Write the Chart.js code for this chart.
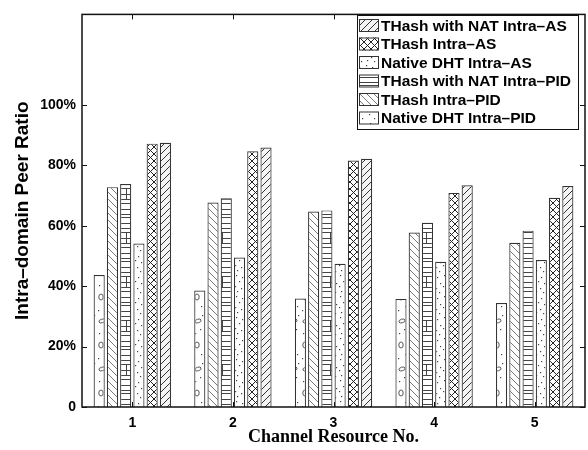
<!DOCTYPE html>
<html>
<head>
<meta charset="utf-8">
<script src="https://cdn.jsdelivr.net/npm/chart.js@4/dist/chart.umd.min.js"></script>
<style>
  html, body { margin: 0; padding: 0; background: #fff; }
  #wrap { width: 588px; height: 450px; position: relative; }
</style>
</head>
<body>
<div id="wrap"><canvas id="chart"></canvas></div>
<script>
const channels = ['1', '2', '3', '4', '5'];
const nativeDhtPid = [43.7, 38.6, 35.9, 35.8, 34.4];
const thashPid = [72.8, 67.7, 64.7, 57.8, 54.4];
const thashNatPid = [73.8, 69.1, 65.1, 61.0, 58.4];
const nativeDhtAs = [54.1, 49.5, 47.4, 48.1, 48.7];
const thashAs = [87.2, 84.7, 81.6, 70.9, 69.3];
const thashNatAs = [87.5, 85.9, 82.2, 73.4, 73.2];
const yTicks = [0, 20, 40, 60, 80, 100];

// small tile canvases used as hatch fills
function makePattern(w, h, draw) {
  const c = document.createElement('canvas');
  c.width = w;
  c.height = h;
  const g = c.getContext('2d');
  g.fillStyle = '#fff';
  g.fillRect(0, 0, w, h);
  g.strokeStyle = '#333';
  g.fillStyle = '#333';
  g.lineWidth = 1;
  draw(g, w, h);
  return g.createPattern(c, 'repeat');
}

const backslash = makePattern(7, 7, (g, w, h) => {
  g.strokeStyle = '#555';
  g.lineWidth = 0.8;
  g.beginPath();
  for (let k = -1; k <= 1; k++) {
    g.moveTo(k * w, 0);
    g.lineTo(k * w + w, h);
  }
  g.stroke();
});

const slash = makePattern(7, 7, (g, w, h) => {
  g.fillStyle = '#f4f4f4';
  g.fillRect(0, 0, w, h);
  g.strokeStyle = '#333';
  g.beginPath();
  for (let k = -1; k <= 1; k++) {
    g.moveTo(k * w, h);
    g.lineTo(k * w + w, 0);
  }
  g.stroke();
});

const cross = makePattern(7, 7, (g, w, h) => {
  g.strokeStyle = '#222';
  g.beginPath();
  for (let k = -1; k <= 1; k++) {
    g.moveTo(k * w, 0);
    g.lineTo(k * w + w, h);
    g.moveTo(k * w, h);
    g.lineTo(k * w + w, 0);
  }
  g.stroke();
});

const dots = makePattern(13, 21, (g) => {
  g.fillStyle = '#444';
  [[2, 2], [8, 4], [5, 8], [11, 10], [1, 13], [7, 15], [10, 19], [3, 18]].forEach(p => {
    g.fillRect(p[0], p[1], 1.2, 1.2);
  });
});

const hlines = makePattern(12, 44, (g, w) => {
  g.strokeStyle = '#444';
  g.beginPath();
  [3.5, 8.5, 12.5, 18.5, 23.5, 27.5, 33.5, 38.5, 41.5].forEach(y => {
    g.moveTo(0, y);
    g.lineTo(w, y);
  });
  g.moveTo(6.5, 12.5);
  g.lineTo(6.5, 23.5);
  g.stroke();
});

const circles = makePattern(12, 48, (g) => {
  g.strokeStyle = '#444';
  g.lineWidth = 0.9;
  g.beginPath();
  g.ellipse(5, 9, 2.2, 3, 0, 0, Math.PI * 2);
  g.stroke();
  g.beginPath();
  g.ellipse(6, 33, 3.2, 1.8, -0.3, 0, Math.PI * 2);
  g.stroke();
  g.fillStyle = '#444';
  [[9, 18], [2, 22], [8, 41], [3, 45], [10, 27]].forEach(p => g.fillRect(p[0], p[1], 1.2, 1.2));
});

const series = [
  { label: 'Native DHT Intra\u2013PID', data: nativeDhtPid, fill: circles },
  { label: 'THash Intra\u2013PID', data: thashPid, fill: backslash },
  { label: 'THash with NAT Intra\u2013PID', data: thashNatPid, fill: hlines },
  { label: 'Native DHT Intra\u2013AS', data: nativeDhtAs, fill: dots },
  { label: 'THash Intra\u2013AS', data: thashAs, fill: cross },
  { label: 'THash with NAT Intra\u2013AS', data: thashNatAs, fill: slash }
];

// matlab style box with inward ticks
const framePlugin = {
  id: 'frame',
  afterDatasetsDraw(chart) {
    const ctx = chart.ctx;
    const a = chart.chartArea;
    const xs = chart.scales.x;
    const ys = chart.scales.y;
    ctx.save();
    ctx.strokeStyle = '#111';
    ctx.lineWidth = 1.5;
    ctx.strokeRect(a.left, a.top, a.right - a.left, a.bottom - a.top);
    ctx.lineWidth = 1;
    ctx.beginPath();
    yTicks.forEach(v => {
      const y = Math.round(ys.getPixelForValue(v)) + 0.5;
      ctx.moveTo(a.left, y);
      ctx.lineTo(a.left + 5, y);
      ctx.moveTo(a.right, y);
      ctx.lineTo(a.right - 5, y);
    });
    channels.forEach((c, i) => {
      const x = Math.round(xs.getPixelForValue(i)) + 0.5;
      ctx.moveTo(x, a.bottom);
      ctx.lineTo(x, a.bottom - 5);
      ctx.moveTo(x, a.top);
      ctx.lineTo(x, a.top + 5);
    });
    ctx.stroke();
    ctx.restore();
  }
};

const legendPlugin = {
  id: 'boxLegend',
  afterDraw(chart) {
    const ctx = chart.ctx;
    const left = 357, top = 15, right = 578, bottom = 129;
    ctx.save();
    ctx.fillStyle = '#fff';
    ctx.fillRect(left, top, right - left, bottom - top);
    ctx.strokeStyle = '#111';
    ctx.lineWidth = 1;
    ctx.strokeRect(left + 0.5, top + 0.5, right - left, bottom - top);
    ctx.font = 'bold 15.5px "Liberation Sans", Arial, sans-serif';
    ctx.textBaseline = 'middle';
    const items = chart.data.datasets.slice().reverse();
    items.forEach((ds, i) => {
      const cy = 25.5 + i * 18.5;
      ctx.fillStyle = ds.backgroundColor;
      ctx.fillRect(359, cy - 6.5, 19, 13);
      ctx.strokeStyle = '#333';
      ctx.strokeRect(359.5, cy - 6, 19, 12);
      ctx.fillStyle = '#000';
      ctx.fillText(ds.label, 381, cy + 1);
    });
    ctx.restore();
  }
};

new Chart(document.getElementById('chart'), {
  type: 'bar',
  data: {
    labels: channels,
    datasets: series.map(s => ({
      label: s.label,
      data: s.data,
      backgroundColor: s.fill,
      borderColor: '#333',
      borderWidth: 1.2,
      categoryPercentage: 0.79,
      barPercentage: 0.84
    }))
  },
  options: {
    responsive: true,
    maintainAspectRatio: false,
    animation: false,
    layout: { padding: { left: 0, right: 3, top: 8, bottom: 0 } },
    plugins: {
      legend: { display: false },
      tooltip: { enabled: false }
    },
    scales: {
      x: {
        offset: true,
        grid: { display: false, drawTicks: false },
        border: { display: false },
        ticks: {
          padding: 8,
          color: '#000',
          font: { family: '"Liberation Sans", Arial, sans-serif', size: 14, weight: 'bold' }
        },
        title: {
          display: true,
          text: 'Channel Resource No.',
          color: '#000',
          padding: { top: 0, bottom: 2 },
          font: { family: '"Liberation Serif", "Times New Roman", serif', size: 18, weight: 'bold' }
        },
        afterFit(scale) { scale.height = 43; }
      },
      y: {
        min: 0,
        max: 130,
        grid: { display: false, drawTicks: false },
        border: { display: false },
        afterBuildTicks(scale) {
          scale.ticks = yTicks.map(v => ({ value: v }));
        },
        ticks: {
          padding: 6,
          color: '#000',
          font: { family: '"Liberation Sans", Arial, sans-serif', size: 14, weight: 'bold' },
          callback: v => (v === 0 ? '0' : v + '%')
        },
        title: {
          display: true,
          text: 'Intra\u2013domain Peer Ratio',
          color: '#000',
          padding: { top: 11, bottom: 0 },
          font: { family: '"Liberation Sans", Arial, sans-serif', size: 19, weight: 'bold' }
        },
        afterFit(scale) { scale.width = 82; }
      }
    }
  },
  plugins: [framePlugin, legendPlugin]
});
</script>
</body>
</html>
